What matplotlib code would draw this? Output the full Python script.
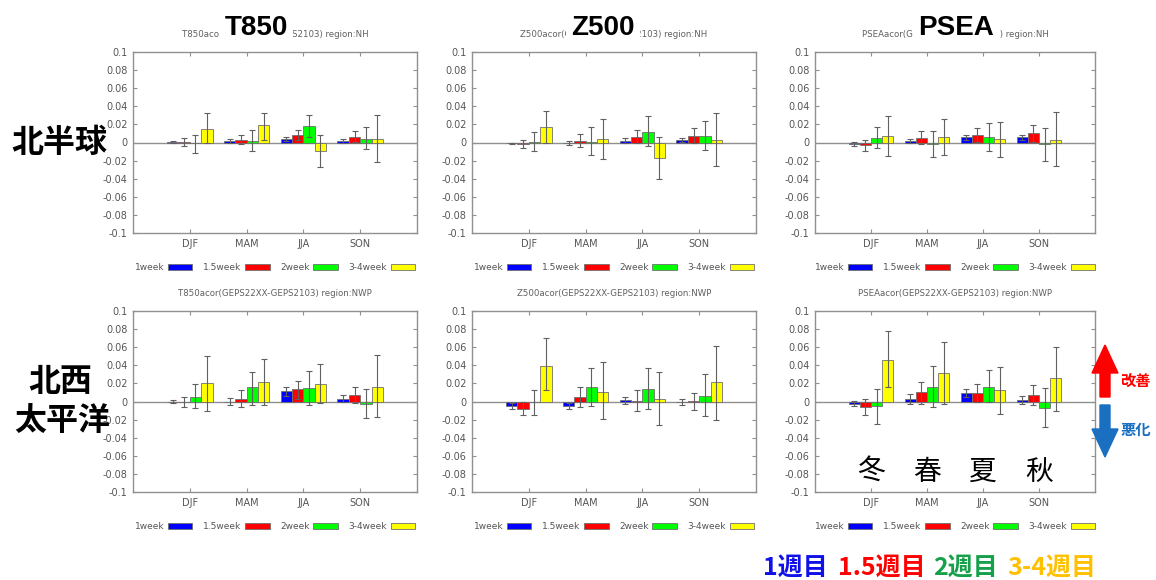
import matplotlib
matplotlib.use('Agg')
import matplotlib.pyplot as plt
import numpy as np
from matplotlib.patches import Polygon

plt.rcParams['font.family'] = ['DejaVu Sans', 'Noto Sans CJK JP']

seasons = ['DJF', 'MAM', 'JJA', 'SON']
leads = ['1week', '1.5week', '2week', '3-4week']
lead_colors = ['#0000ff', '#ff0000', '#00ff00', '#ffff00']
yticks = [0.1, 0.08, 0.06, 0.04, 0.02, 0, -0.02, -0.04, -0.06, -0.08, -0.1]

# rows = lead time, columns = season (DJF, MAM, JJA, SON)
t850_nh_val = [[0.001, 0.002, 0.004, 0.002],
               [0.001, 0.003, 0.008, 0.006],
               [-0.001, 0.002, 0.018, 0.004],
               [0.015, 0.019, -0.0095, 0.004]]
t850_nh_hi = [[0.002, 0.004, 0.006, 0.0044],
              [0.0055, 0.0088, 0.0136, 0.0125],
              [0.0085, 0.014, 0.030, 0.017],
              [0.033, 0.033, 0.0085, 0.0305]]
t850_nh_lo = [[-0.001, -0.001, 0.002, 0.0],
              [-0.004, -0.002, 0.0026, 0.0007],
              [-0.012, -0.009, 0.006, -0.007],
              [-0.001, 0.003, -0.027, -0.021]]

z500_nh_val = [[-0.001, 0.0, 0.002, 0.003],
               [-0.0015, 0.002, 0.0063, 0.0074],
               [0.001, 0.001, 0.0115, 0.007],
               [0.0167, 0.0044, -0.0174, 0.003]]
z500_nh_hi = [[0.0, 0.002, 0.0055, 0.0055],
              [0.003, 0.009, 0.0137, 0.0155],
              [0.0115, 0.0167, 0.029, 0.0237],
              [0.035, 0.0256, 0.0063, 0.033]]
z500_nh_lo = [[-0.002, -0.0026, -0.0004, 0.0004],
              [-0.0063, -0.005, -0.001, -0.0004],
              [-0.0093, -0.0133, -0.0037, -0.0078],
              [-0.001, -0.0178, -0.040, -0.026]]

psea_nh_val = [[-0.0018, 0.0018, 0.006, 0.006],
               [-0.003, 0.0052, 0.008, 0.0104],
               [0.0048, -0.0018, 0.006, -0.0022],
               [0.007, 0.0063, 0.0037, 0.0033]]
psea_nh_hi = [[0.0004, 0.0044, 0.0085, 0.0085],
              [0.003, 0.0126, 0.0155, 0.019],
              [0.0167, 0.013, 0.021, 0.016],
              [0.0296, 0.026, 0.0226, 0.034]]
psea_nh_lo = [[-0.0037, -0.001, 0.0033, 0.0033],
              [-0.009, -0.0018, 0.0007, 0.0007],
              [-0.006, -0.016, -0.009, -0.020],
              [-0.0144, -0.014, -0.016, -0.026]]

t850_nwp_val = [[0.0, 0.0, 0.0114, 0.0033],
                [0.0, 0.003, 0.0133, 0.007],
                [0.0055, 0.0155, 0.015, -0.003],
                [0.0207, 0.0218, 0.0196, 0.016]]
t850_nwp_hi = [[0.0018, 0.0037, 0.016, 0.0074],
               [0.0055, 0.013, 0.0232, 0.0159],
               [0.019, 0.033, 0.0336, 0.014],
               [0.050, 0.0465, 0.041, 0.0513]]
t850_nwp_lo = [[-0.0018, -0.004, 0.0066, -0.0007],
               [-0.0066, -0.006, 0.0033, -0.0018],
               [-0.0077, -0.0044, -0.004, -0.018],
               [-0.010, -0.004, -0.0015, -0.017]]

z500_nwp_val = [[-0.005, -0.005, 0.0015, 0.0],
                [-0.008, 0.0048, 0.001, 0.001],
                [-0.001, 0.0155, 0.0137, 0.006],
                [0.0395, 0.011, 0.0033, 0.022]]
z500_nwp_hi = [[-0.002, -0.002, 0.005, 0.0033],
               [0.0, 0.016, 0.0125, 0.0096],
               [0.0125, 0.0365, 0.0365, 0.0306],
               [0.070, 0.0435, 0.033, 0.061]]
z500_nwp_lo = [[-0.008, -0.0085, -0.0026, -0.0037],
               [-0.0145, -0.006, -0.010, -0.0096],
               [-0.0144, -0.0055, -0.008, -0.016],
               [0.0125, -0.019, -0.0255, -0.020]]

psea_nwp_val = [[-0.0026, 0.0026, 0.0099, 0.0015],
                [-0.006, 0.0103, 0.0099, 0.0073],
                [-0.0055, 0.0165, 0.0165, -0.0077],
                [0.046, 0.031, 0.0128, 0.0257]]
psea_nwp_hi = [[0.001, 0.008, 0.014, 0.0066],
               [0.0026, 0.022, 0.019, 0.018],
               [0.014, 0.039, 0.035, 0.0154],
               [0.078, 0.0657, 0.038, 0.0605]]
psea_nwp_lo = [[-0.0055, -0.003, 0.005, -0.003],
                [-0.0147, -0.0026, 0.0, -0.004],
                [-0.025, -0.0066, -0.0007, -0.028],
                [0.016, -0.0033, -0.0136, -0.0103]]

W, H = 1156, 580
fig = plt.figure(figsize=(W / 100, H / 100), dpi=100)
fig.patch.set_facecolor('white')


def px(x, y):
    # pixel position (from top-left) -> figure fraction
    return x / W, 1 - y / H


def draw_panel(rect, val, lo, hi, title):
    ax = fig.add_axes(rect)
    x = np.arange(1, len(seasons) + 1)
    for i, lead in enumerate(leads):
        v = np.array(val[i])
        err = [v - np.array(lo[i]), np.array(hi[i]) - v]
        xs = x + (i - 1.5) * 0.2
        ax.bar(xs, v, width=0.2, color=lead_colors[i], edgecolor='#707070',
               linewidth=0.6, label=lead, zorder=2)
        ax.errorbar(xs, v, yerr=err, fmt='none', ecolor='#606060',
                    elinewidth=0.8, capsize=2, capthick=0.8, zorder=3)
    ax.axhline(0, color='#909090', lw=1, zorder=1)
    ax.set_xlim(0, 5)
    ax.set_ylim(-0.1, 0.1)
    ax.set_xticks(x)
    ax.set_xticklabels(seasons)
    ax.set_yticks(yticks)
    ax.set_yticklabels(['%g' % t for t in yticks])
    ax.tick_params(direction='in', length=3, width=0.8, color='#909090',
                   labelcolor='#555555', labelsize=7, top=True, right=True,
                   pad=4)
    for s in ax.spines.values():
        s.set_color('#909090')
        s.set_linewidth(1)
    ax.set_title(title, fontsize=6.2, color='#606060', pad=11)
    ax.legend(ncol=4, loc='center', bbox_to_anchor=(0.5, -0.19),
              frameon=False, markerfirst=False, fontsize=6.5,
              labelcolor='#555555', handlelength=2.7, handleheight=0.6,
              handletextpad=0.4, columnspacing=1.2, borderaxespad=0)
    return ax


top_b, bot_b, hgt = 1 - 233 / H, 1 - 492 / H, 181 / H
cols = [(133 / W, 284 / W), (472 / W, 284 / W), (815 / W, 280 / W)]

draw_panel([cols[0][0], top_b, cols[0][1], hgt], t850_nh_val, t850_nh_lo,
           t850_nh_hi, 'T850acor(GEPS22XX-GEPS2103) region:NH')
draw_panel([cols[1][0], top_b, cols[1][1], hgt], z500_nh_val, z500_nh_lo,
           z500_nh_hi, 'Z500acor(GEPS22XX-GEPS2103) region:NH')
draw_panel([cols[2][0], top_b, cols[2][1], hgt], psea_nh_val, psea_nh_lo,
           psea_nh_hi, 'PSEAacor(GEPS22XX-GEPS2103) region:NH')
draw_panel([cols[0][0], bot_b, cols[0][1], hgt], t850_nwp_val, t850_nwp_lo,
           t850_nwp_hi, 'T850acor(GEPS22XX-GEPS2103) region:NWP')
draw_panel([cols[1][0], bot_b, cols[1][1], hgt], z500_nwp_val, z500_nwp_lo,
           z500_nwp_hi, 'Z500acor(GEPS22XX-GEPS2103) region:NWP')
ax_last = draw_panel([cols[2][0], bot_b, cols[2][1], hgt], psea_nwp_val,
                     psea_nwp_lo, psea_nwp_hi,
                     'PSEAacor(GEPS22XX-GEPS2103) region:NWP')

# big variable names on top of the small titles
for name, cx in [('T850', 256), ('Z500', 603), ('PSEA', 956)]:
    fig.text(*px(cx, 28), name, fontsize=20, fontweight='bold',
             family='Liberation Sans', ha='center', va='center',
             bbox=dict(facecolor='white', edgecolor='none', pad=4))

# region labels on the left
cjk = ['Noto Sans CJK JP', 'DejaVu Sans']
fig.text(*px(59, 143), '北半球', fontsize=23, fontweight='bold', family=cjk,
         ha='center', va='center')
fig.text(*px(60, 382), '北西', fontsize=23, fontweight='bold', family=cjk,
         ha='center', va='center')
fig.text(*px(62, 421), '太平洋', fontsize=23, fontweight='bold', family=cjk,
         ha='center', va='center')

# season names in the last panel
for xi, s in zip(range(1, 5), ['冬', '春', '夏', '秋']):
    ax_last.text(xi, -0.078, s, fontsize=20, family=cjk, ha='center',
                 va='center', zorder=5)

# lead time key at the bottom right
for x0, s, c in [(763, '1週目', '#1010e8'), (838, '1.5週目', '#ff0000'),
                 (933, '2週目', '#16a04a'), (1007, '3-4週目', '#ffc000')]:
    fig.text(*px(x0, 568), s, fontsize=18, fontweight='bold', family=cjk,
             color=c, ha='left', va='center')

# improvement / degradation arrows
up = [(1100, 397), (1100, 373), (1092, 373), (1105, 345), (1118, 373),
      (1110, 373), (1110, 397)]
down = [(1100, 405), (1110, 405), (1110, 429), (1118, 429), (1105, 457),
        (1092, 429), (1100, 429)]
fig.add_artist(Polygon([px(*p) for p in up], closed=True, color='#ff0000',
                       transform=fig.transFigure, zorder=10))
fig.add_artist(Polygon([px(*p) for p in down], closed=True, color='#1a6fc0',
                       transform=fig.transFigure, zorder=10))
fig.text(*px(1135, 381), '改善', fontsize=11, fontweight='bold', family=cjk,
         color='#ff0000', ha='center', va='center')
fig.text(*px(1136, 430), '悪化', fontsize=11, fontweight='bold', family=cjk,
         color='#1a6fc0', ha='center', va='center')

fig.savefig('out.png', dpi=100)
